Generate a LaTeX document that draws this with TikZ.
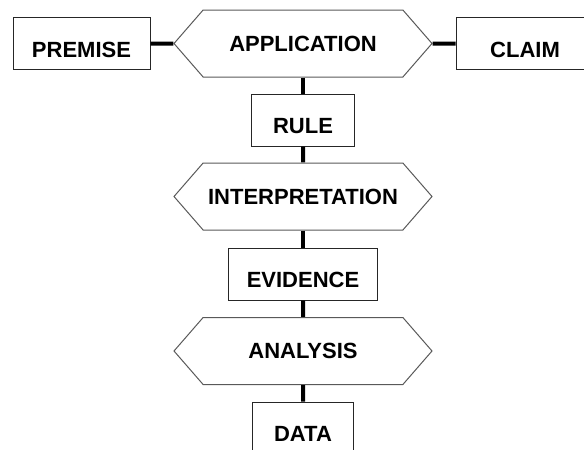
\documentclass[tikz,border=0pt]{standalone}
\usepackage{fontspec}
\setmainfont{Liberation Sans}
\usetikzlibrary{shapes.symbols}
\tikzset{
  box/.style={draw=black!85,line width=1pt,minimum height=52pt,inner sep=0pt,text height=27pt,text depth=0pt},
  hexa/.style={signal,signal to=west and east,signal pointer angle=98,draw=black!65,line width=1pt,minimum width=258pt,minimum height=67pt,inner sep=0pt},
  link/.style={line width=4pt}
}
\begin{document}
\begin{tikzpicture}[x=1pt,y=-1pt,font=\fontsize{22}{26}\selectfont\bfseries]
\useasboundingbox (0,0) rectangle (584,450);
\node[box,minimum width=137pt] (premise) at (81.5,43.5) {PREMISE};
\node[hexa] (application) at (303,43.5) {APPLICATION};
\node[box,minimum width=138pt] (claim) at (525,43.5) {CLAIM};
\node[box,minimum width=103pt] (rule) at (303,120) {RULE};
\node[hexa] (interpretation) at (303,196.5) {INTERPRETATION};
\node[box,minimum width=149pt] (evidence) at (303,274) {EVIDENCE};
\node[hexa] (analysis) at (303,351) {ANALYSIS};
\node[box,minimum width=101pt] (data) at (303,428) {DATA};
\draw[link] (premise) -- (application);
\draw[link] (application) -- (claim);
\draw[link] (application) -- (rule);
\draw[link] (rule) -- (interpretation);
\draw[link] (interpretation) -- (evidence);
\draw[link] (evidence) -- (analysis);
\draw[link] (analysis) -- (data);
\end{tikzpicture}
\end{document}
